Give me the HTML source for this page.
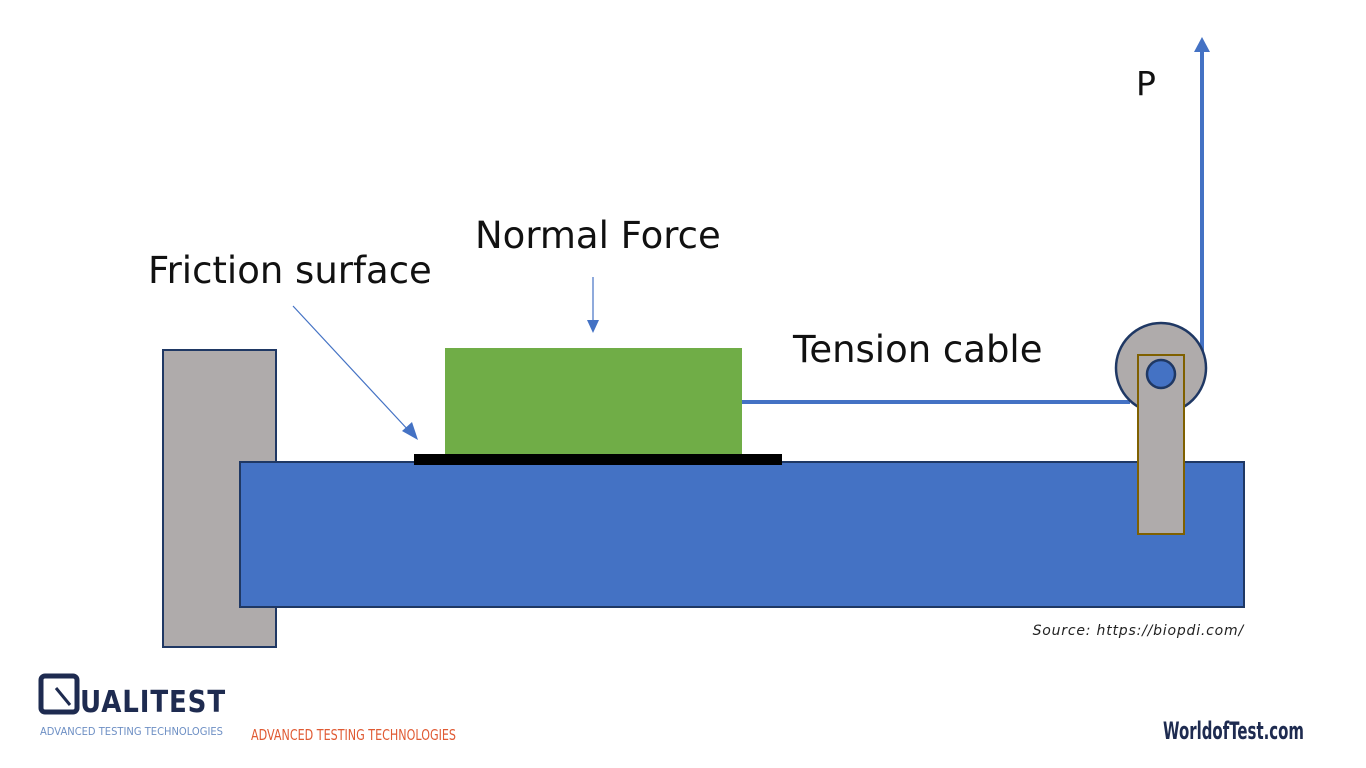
<!DOCTYPE html>
<html><head><meta charset="utf-8"><style>
html,body{margin:0;padding:0;background:#fff;}
body{width:1366px;height:768px;overflow:hidden;position:relative;font-family:"DejaVu Sans","Liberation Sans",sans-serif;}
</style></head><body>
<svg width="1366" height="768" style="position:absolute;left:0;top:0">
<rect x="163" y="350" width="113" height="297" fill="#afabab" stroke="#1f3864" stroke-width="2"/>
<rect x="240" y="462" width="1004" height="145" fill="#4472c4" stroke="#1f3864" stroke-width="2"/>
<rect x="445" y="348" width="297" height="106" fill="#70ad47"/>
<rect x="414" y="454" width="368" height="11" fill="#000"/>
<polyline points="742,402 1130,402" stroke="#4472c4" stroke-width="4" fill="none"/>
<line x1="1202" y1="360" x2="1202" y2="48" stroke="#4472c4" stroke-width="4"/>
<path d="M1194,52 L1202,37 L1210,52z" fill="#4472c4"/>
<circle cx="1161" cy="368" r="45" fill="#afabab" stroke="#1f3864" stroke-width="2.5"/>
<rect x="1138" y="355" width="46" height="179" fill="#afabab" stroke="#7f6000" stroke-width="2"/>
<circle cx="1161" cy="374" r="14" fill="#4472c4" stroke="#1f3864" stroke-width="2.5"/>
<line x1="293" y1="306" x2="410" y2="432" stroke="#4472c4" stroke-width="1.2"/>
<path d="M402,431 L418,440 L412,422z" fill="#4472c4"/>
<line x1="593" y1="277" x2="593" y2="322" stroke="#4472c4" stroke-width="1.2"/>
<path d="M587,320 L593,333 L599,320z" fill="#4472c4"/>
<text x="148" y="283" font-size="37" fill="#111">Friction surface</text>
<text x="475" y="248" font-size="37" fill="#111">Normal Force</text>
<text x="793" y="362" font-size="37" fill="#111">Tension cable</text>
<text x="1136" y="95" font-size="33" fill="#111">P</text>
<text x="1244" y="635" font-size="14" font-style="italic" text-anchor="end" fill="#222" letter-spacing="0.8">Source: https://biopdi.com/</text>
<rect x="41" y="676" width="36" height="36" rx="4" fill="none" stroke="#1e2b50" stroke-width="5"/>
<line x1="56" y1="688" x2="70" y2="705" stroke="#1e2b50" stroke-width="3"/>
<text x="80" y="712" font-size="30" font-weight="bold" fill="#1e2b50" letter-spacing="1" textLength="146" lengthAdjust="spacingAndGlyphs">UALITEST</text>
<text x="40" y="735" font-size="10.5" fill="#6d8fc4" textLength="183" lengthAdjust="spacingAndGlyphs">ADVANCED TESTING TECHNOLOGIES</text>
<text x="251" y="740" font-size="15" fill="#e05a33" textLength="205" lengthAdjust="spacingAndGlyphs">ADVANCED TESTING TECHNOLOGIES</text>
<text x="1163" y="739" font-size="24" font-weight="bold" fill="#1e2b50" textLength="141" lengthAdjust="spacingAndGlyphs">WorldofTest.com</text>
</svg>
</body></html>
